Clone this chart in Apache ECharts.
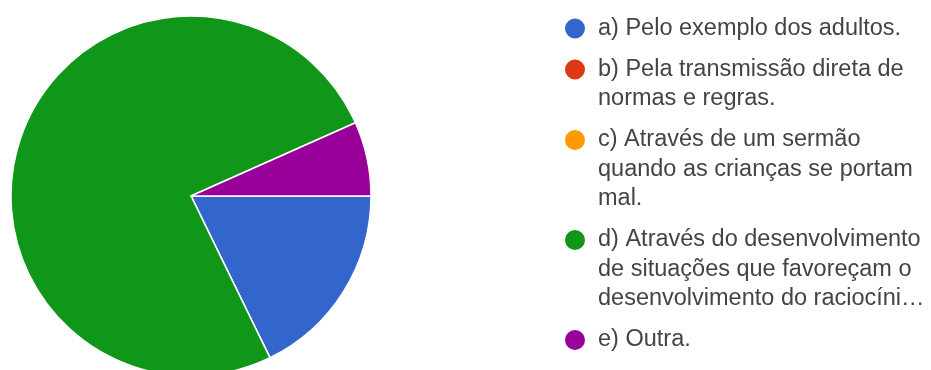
<!DOCTYPE html>
<html>
<head>
<meta charset="utf-8">
<script src="https://cdn.jsdelivr.net/npm/echarts@6/dist/echarts.min.js"></script>
<style>
  html, body { margin: 0; padding: 0; background: #fff; }
  #chart { width: 931px; height: 370px; }
</style>
</head>
<body>
<div id="chart"></div>
<script>
// ---- data ----
const categories = [
  "a) Pelo exemplo dos adultos.",
  "b) Pela transmissão direta de normas e regras.",
  "c) Através de um sermão quando as crianças se portam mal.",
  "d) Através do desenvolvimento de situações que favoreçam o desenvolvimento do raciocíni…",
  "e) Outra."
];
const legendLines = [
  ["a) Pelo exemplo dos adultos."],
  ["b) Pela transmissão direta de", "normas e regras."],
  ["c) Através de um sermão", "quando as crianças se portam", "mal."],
  ["d) Através do desenvolvimento", "de situações que favoreçam o", "desenvolvimento do raciocíni…"],
  ["e) Outra."]
];
const values = [8, 0, 0, 34, 3];
const colors = ["#3366cc", "#dc3912", "#ff9900", "#109618", "#990099"];

// ---- layout ----
const LH = 29.5, GAP = 11.5, FIRST_Y = 28.5, ICON = 22, ICON_BOX = 36, ICON_CX = 574;

const legends = [];
let y = FIRST_Y;
categories.forEach((name, i) => {
  const n = legendLines[i].length;
  // blank lines above keep the first text line level with the icon
  const text = '\n'.repeat(n - 1) + legendLines[i].join('\n');
  legends.push({
    data: [{ name: name, icon: 'circle' }],
    left: ICON_CX - ICON / 2,
    top: y - (2 * n - 1) * LH / 2,
    padding: 0,
    itemWidth: ICON_BOX,
    itemHeight: ICON,
    itemGap: 0,
    symbolKeepAspect: true,
    orient: 'vertical',
    formatter: () => text,
    textStyle: {
      fontSize: 23.5,
      lineHeight: LH,
      color: '#444',
      fontFamily: 'Liberation Sans, Arial, sans-serif'
    }
  });
  y += n * LH + GAP;
});

const chart = echarts.init(document.getElementById('chart'), null, { renderer: 'canvas' });
chart.setOption({
  animation: false,
  color: colors,
  legend: legends,
  series: [{
    type: 'pie',
    center: [191, 196],
    radius: 180,
    startAngle: 0,
    clockwise: true,
    label: { show: false },
    labelLine: { show: false },
    emphasis: { scale: false },
    itemStyle: { borderColor: '#fff', borderWidth: 1.5 },
    data: categories.map((name, i) => ({ name: name, value: values[i] }))
  }]
});
</script>
</body>
</html>
